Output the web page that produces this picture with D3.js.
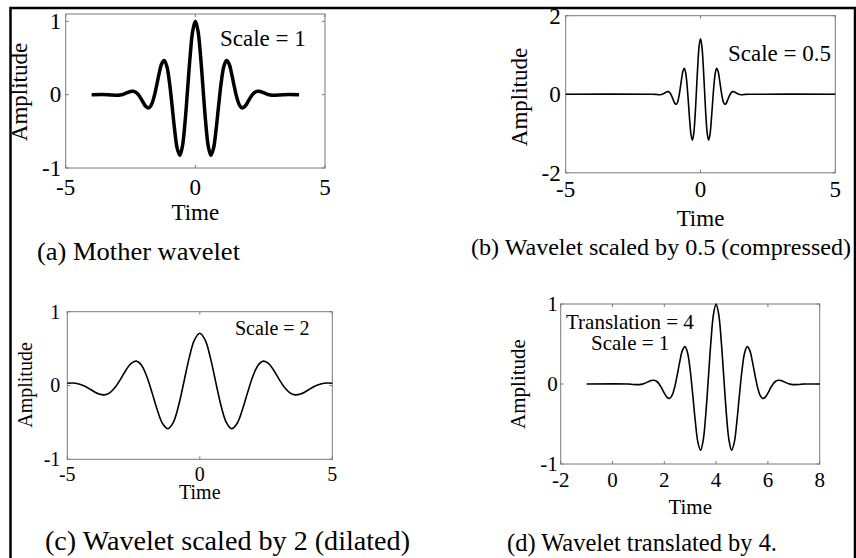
<!DOCTYPE html>
<html>
<head>
<meta charset="utf-8">
<script src="https://cdn.jsdelivr.net/npm/d3@7"></script>
<style>
  body { margin: 0; background: #fff; }
  svg { display: block; }
  text { font-family: "Liberation Serif", "Times New Roman", serif; fill: #000; }
</style>
</head>
<body>
<svg id="fig" width="856" height="558"></svg>
<script>
// values (Morlet-like wavelets)
// (a) mother wavelet, scale 1
var timeA = [-4.0, -3.4, -3.3, -3.2, -3.1, -3.0, -2.9, -2.8, -2.7, -2.6, -2.5, -2.4, -2.3, -2.2, -2.1, -2.0,
  -1.9, -1.8, -1.7, -1.6, -1.5, -1.4, -1.3, -1.2, -1.1, -1.0, -0.9, -0.8, -0.7, -0.6, -0.5, -0.4, -0.3, -0.2, -0.1,
  0.0, 0.1, 0.2, 0.3, 0.4, 0.5, 0.6, 0.7, 0.8, 0.9, 1.0, 1.1, 1.2, 1.3, 1.4, 1.5, 1.6, 1.7, 1.8, 1.9,
  2.0, 2.1, 2.2, 2.3, 2.4, 2.5, 2.6, 2.7, 2.8, 2.9, 3.0, 3.1, 3.2, 3.3, 3.4, 4.0];
var ampA = [0, 0, -0.003, -0.006, -0.008, -0.008, -0.005, 0.003, 0.016, 0.031, 0.044, 0.047, 0.034, 0.000, -0.052, -0.114,
  -0.164, -0.180, -0.142, -0.040, 0.113, 0.283, 0.420, 0.467, 0.387, 0.172, -0.141, -0.475, -0.733, -0.827, -0.707, -0.384, 0.068, 0.530, 0.873,
  1.000, 0.873, 0.530, 0.068, -0.384, -0.707, -0.827, -0.733, -0.475, -0.141, 0.172, 0.387, 0.467, 0.420, 0.283, 0.113, -0.040, -0.142, -0.180, -0.164,
  -0.114, -0.052, 0.000, 0.034, 0.047, 0.044, 0.031, 0.016, 0.003, -0.005, -0.008, -0.008, -0.006, -0.003, 0, 0];

// (b) scaled by 0.5
var timeB = [-5.0, -1.8, -1.65, -1.6, -1.55, -1.5, -1.45, -1.4, -1.35, -1.3, -1.25, -1.2, -1.15, -1.1, -1.05, -1.0,
  -0.95, -0.9, -0.85, -0.8, -0.75, -0.7, -0.65, -0.6, -0.55, -0.5, -0.45, -0.4, -0.35, -0.3, -0.25, -0.2, -0.15, -0.1, -0.05,
  0.0, 0.05, 0.1, 0.15, 0.2, 0.25, 0.3, 0.35, 0.4, 0.45, 0.5, 0.55, 0.6, 0.65, 0.7, 0.75, 0.8, 0.85, 0.9, 0.95,
  1.0, 1.05, 1.1, 1.15, 1.2, 1.25, 1.3, 1.35, 1.4, 1.45, 1.5, 1.55, 1.6, 1.65, 1.8, 5.0];
var ampB = [0, 0, -0.004, -0.008, -0.011, -0.011, -0.007, 0.004, 0.023, 0.044, 0.062, 0.066, 0.048, 0.000, -0.074, -0.161,
  -0.232, -0.255, -0.201, -0.057, 0.160, 0.400, 0.594, 0.660, 0.547, 0.243, -0.199, -0.672, -1.036, -1.169, -1.000, -0.543, 0.096, 0.749, 1.234,
  1.414, 1.234, 0.749, 0.096, -0.543, -1.000, -1.169, -1.036, -0.672, -0.199, 0.243, 0.547, 0.660, 0.594, 0.400, 0.160, -0.057, -0.201, -0.255, -0.232,
  -0.161, -0.074, 0.000, 0.048, 0.066, 0.062, 0.044, 0.023, 0.004, -0.007, -0.011, -0.011, -0.008, -0.004, 0, 0];

// (c) scaled by 2
var timeC = [-5.0, -4.8, -4.6, -4.4, -4.2, -4.0, -3.8, -3.6, -3.4, -3.2, -3.0, -2.8, -2.6, -2.4, -2.2, -2.0,
  -1.8, -1.6, -1.4, -1.2, -1.0, -0.8, -0.6, -0.4, -0.2, 0.0, 0.2, 0.4, 0.6, 0.8, 1.0, 1.2, 1.4, 1.6, 1.8,
  2.0, 2.2, 2.4, 2.6, 2.8, 3.0, 3.2, 3.4, 3.6, 3.8, 4.0, 4.2, 4.4, 4.6, 4.8, 5.0];
var ampC = [0.031, 0.033, 0.024, 0.000, -0.037, -0.081, -0.116, -0.127, -0.100, -0.028, 0.080, 0.200, 0.297, 0.330, 0.274, 0.122,
  -0.100, -0.336, -0.518, -0.585, -0.500, -0.272, 0.048, 0.375, 0.617, 0.707, 0.617, 0.375, 0.048, -0.272, -0.500, -0.585, -0.518, -0.336, -0.100,
  0.122, 0.274, 0.330, 0.297, 0.200, 0.080, -0.028, -0.100, -0.127, -0.116, -0.081, -0.037, 0.000, 0.024, 0.033, 0.031];

// (d) translated by 4 (same shape as the mother wavelet)
var timeD = [-1.0, 0.6, 0.7, 0.8, 0.9, 1.0, 1.1, 1.2, 1.3, 1.4, 1.5, 1.6, 1.7, 1.8, 1.9, 2.0,
  2.1, 2.2, 2.3, 2.4, 2.5, 2.6, 2.7, 2.8, 2.9, 3.0, 3.1, 3.2, 3.3, 3.4, 3.5, 3.6, 3.7, 3.8, 3.9,
  4.0, 4.1, 4.2, 4.3, 4.4, 4.5, 4.6, 4.7, 4.8, 4.9, 5.0, 5.1, 5.2, 5.3, 5.4, 5.5, 5.6, 5.7, 5.8, 5.9,
  6.0, 6.1, 6.2, 6.3, 6.4, 6.5, 6.6, 6.7, 6.8, 6.9, 7.0, 7.1, 7.2, 7.3, 7.4, 8.0];
var ampD = ampA.slice();

var xTicksA = [-5, 0, 5], yTicksA = [-1, 0, 1];
var xTicksB = [-5, 0, 5], yTicksB = [-2, 0, 2];
var xTicksC = [-5, 0, 5], yTicksC = [-1, 0, 1];
var xTicksD = [-2, 0, 2, 4, 6, 8], yTicksD = [-1, 0, 1];

var svg = d3.select("#fig");

// outer frame (open at the bottom)
svg.append("path")
  .attr("d", "M10.5,560V8H855V560")
  .attr("fill", "none")
  .attr("stroke", "#000")
  .attr("stroke-width", 2.5);

function panel(p) {
  var x = d3.scaleLinear().domain(p.xDomain).range([p.left, p.right]);
  var y = d3.scaleLinear().domain(p.yDomain).range([p.bottom, p.top]);
  var g = svg.append("g");

  // box
  g.append("rect")
    .attr("x", p.left).attr("y", p.top)
    .attr("width", p.right - p.left).attr("height", p.bottom - p.top)
    .attr("fill", "none").attr("stroke", "#7a7a7a").attr("stroke-width", 1);

  // inward ticks on all four sides
  var tl = 3;
  p.xTicks.forEach(function(t) {
    g.append("line").attr("x1", x(t)).attr("x2", x(t)).attr("y1", p.bottom).attr("y2", p.bottom - tl)
      .attr("stroke", "#7a7a7a");
    g.append("line").attr("x1", x(t)).attr("x2", x(t)).attr("y1", p.top).attr("y2", p.top + tl)
      .attr("stroke", "#7a7a7a");
  });
  p.yTicks.forEach(function(t) {
    g.append("line").attr("x1", p.left).attr("x2", p.left + tl).attr("y1", y(t)).attr("y2", y(t))
      .attr("stroke", "#7a7a7a");
    g.append("line").attr("x1", p.right).attr("x2", p.right - tl).attr("y1", y(t)).attr("y2", y(t))
      .attr("stroke", "#7a7a7a");
  });

  // tick labels
  g.selectAll(".xt").data(p.xTicks).enter().append("text")
    .attr("x", function(d) { return x(d); })
    .attr("y", p.xTickBase)
    .attr("text-anchor", "middle")
    .style("font-size", p.font + "px")
    .text(function(d) { return d; });
  g.selectAll(".yt").data(p.yTicks).enter().append("text")
    .attr("x", p.left - p.yTickGap)
    .attr("y", function(d) { return y(d); })
    .attr("dy", "0.34em")
    .attr("text-anchor", "end")
    .style("font-size", p.font + "px")
    .text(function(d) { return d; });

  // axis titles
  g.append("text")
    .attr("x", (p.left + p.right) / 2).attr("y", p.timeBase)
    .attr("text-anchor", "middle")
    .style("font-size", p.font + "px")
    .text("Time");
  g.append("text")
    .attr("transform", "translate(" + p.ampX + "," + p.ampY + ") rotate(-90)")
    .attr("text-anchor", "middle")
    .style("font-size", p.font + "px")
    .text("Amplitude");

  // the wavelet
  var pts = p.time.map(function(t, i) { return [t, p.amp[i]]; });
  var line = d3.line()
    .x(function(d) { return x(d[0]); })
    .y(function(d) { return y(d[1]); })
    .curve(d3.curveCatmullRom.alpha(0.5));
  g.append("path")
    .datum(pts)
    .attr("d", line)
    .attr("fill", "none")
    .attr("stroke", "#000")
    .attr("stroke-width", p.stroke)
    .attr("stroke-linejoin", "round");

  // annotations
  p.notes.forEach(function(n) {
    g.append("text").attr("x", n.x).attr("y", n.y)
      .style("font-size", p.font + "px").text(n.text);
  });

  // caption (each sub-figure was scaled on its own in the source)
  g.append("text")
    .attr("x", p.capX).attr("y", p.capY)
    .attr("textLength", p.capW)
    .attr("lengthAdjust", "spacingAndGlyphs")
    .style("font-size", p.capFont + "px")
    .text(p.caption);
}

panel({
  left: 65.7, right: 325, top: 14, bottom: 168, xDomain: [-5, 5], yDomain: [-1, 1.1],
  xTicks: xTicksA, yTicks: yTicksA, time: timeA, amp: ampA, stroke: 3.5, font: 23,
  xTickBase: 195, yTickGap: 4.5, timeBase: 220, ampX: 27, ampY: 92,
  notes: [{ x: 220, y: 46, text: "Scale = 1" }],
  caption: "(a) Mother wavelet", capX: 37, capY: 260, capW: 203, capFont: 26
});

panel({
  left: 565.7, right: 835.3, top: 15.7, bottom: 172.8, xDomain: [-5, 5], yDomain: [-2, 2],
  xTicks: xTicksB, yTicks: yTicksB, time: timeB, amp: ampB, stroke: 1.6, font: 23,
  xTickBase: 197, yTickGap: 5, timeBase: 226, ampX: 527, ampY: 97,
  notes: [{ x: 728, y: 61, text: "Scale = 0.5" }],
  caption: "(b) Wavelet scaled by 0.5 (compressed)", capX: 471, capY: 255, capW: 380, capFont: 24
});

panel({
  left: 67.3, right: 332.3, top: 311.7, bottom: 459.3, xDomain: [-5, 5], yDomain: [-1, 1],
  xTicks: xTicksC, yTicks: yTicksC, time: timeC, amp: ampC, stroke: 1.6, font: 20,
  xTickBase: 481, yTickGap: 7, timeBase: 499, ampX: 32, ampY: 385,
  notes: [{ x: 235, y: 335, text: "Scale = 2" }],
  caption: "(c) Wavelet scaled by 2 (dilated)", capX: 45, capY: 550, capW: 365, capFont: 28
});

panel({
  left: 560.7, right: 819.7, top: 304, bottom: 464, xDomain: [-2, 8], yDomain: [-1, 1],
  xTicks: xTicksD, yTicks: yTicksD, time: timeD, amp: ampD, stroke: 1.6, font: 21,
  xTickBase: 487, yTickGap: 3, timeBase: 514, ampX: 525, ampY: 384,
  notes: [{ x: 566, y: 329, text: "Translation = 4" }, { x: 591, y: 350, text: "Scale = 1" }],
  caption: "(d) Wavelet translated by 4.", capX: 507, capY: 551, capW: 270, capFont: 26
});
</script>
</body>
</html>
